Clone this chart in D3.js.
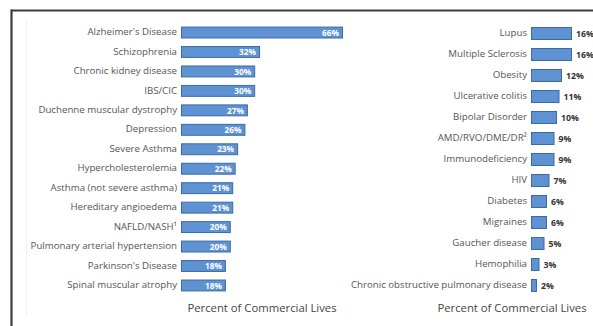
<!DOCTYPE html>
<html>
<head>
<meta charset="utf-8">
<script src="https://cdn.jsdelivr.net/npm/d3@7"></script>
<style>
  html, body { margin: 0; padding: 0; background: #fff; }
  svg { display: block; }
  text { font-family: "Open Sans", "Noto Sans", sans-serif; }
</style>
</head>
<body>
<svg id="chart" width="593" height="326"></svg>
<script>
// Share of commercial lives, by condition (two panels)
const leftCategories = [
  "Alzheimer's Disease", "Schizophrenia", "Chronic kidney disease", "IBS/CIC",
  "Duchenne muscular dystrophy", "Depression", "Severe Asthma", "Hypercholesterolemia",
  "Asthma (not severe asthma)", "Hereditary angioedema", "NAFLD/NASH\u00b9",
  "Pulmonary arterial hypertension", "Parkinson's Disease", "Spinal muscular atrophy"
];
const leftValues = [66, 32, 30, 30, 27, 26, 23, 22, 21, 21, 20, 20, 18, 18];

const rightCategories = [
  "Lupus", "Multiple Sclerosis", "Obesity", "Ulcerative colitis", "Bipolar Disorder",
  "AMD/RVO/DME/DR\u00b2", "Immunodeficiency", "HIV", "Diabetes", "Migraines",
  "Gaucher disease", "Hemophilia", "Chronic obstructive pulmonary disease"
];
const rightValues = [16, 16, 12, 11, 10, 9, 9, 7, 6, 6, 5, 3, 2];

const axisTitle = "Percent of Commercial Lives";

const svg = d3.select("#chart");
const barFill = "#5f92d2";
const barStroke = "#3a6aa6";
const labelColor = "#555";

// Frame
svg.append("line").attr("x1", 11).attr("x2", 593).attr("y1", 10.5).attr("y2", 10.5)
  .attr("stroke", "#3c3c3c").attr("stroke-width", 2.2);
svg.append("line").attr("x1", 11.5).attr("x2", 11.5).attr("y1", 9.5).attr("y2", 326)
  .attr("stroke", "#3c3c3c").attr("stroke-width", 2.2);
svg.append("line").attr("x1", 26.5).attr("x2", 26.5).attr("y1", 20).attr("y2", 316)
  .attr("stroke", "#f0f0f0").attr("stroke-width", 1);

function panel(cats, vals, opts) {
  const g = svg.append("g");
  const x = d3.scaleLinear().domain([0, opts.max]).range([opts.x0, opts.x1]);
  const y = d3.scaleBand().domain(cats).range([opts.y0, opts.y1])
    .paddingInner(opts.pad).paddingOuter(opts.pad / 2);

  // category axis (labels only)
  const axis = d3.axisLeft(y).tickSize(0).tickPadding(4);
  const ag = g.append("g").attr("transform", `translate(${opts.x0},0)`).call(axis);
  ag.select(".domain").remove();
  ag.selectAll("text").attr("fill", labelColor).style("font-size", "9.7px")
    .style("font-family", "\"Open Sans\", sans-serif");

  const rows = g.selectAll("g.row").data(cats.map((c, i) => ({ c, v: vals[i] })))
    .join("g").attr("class", "row");

  rows.append("rect")
    .attr("x", opts.x0 + 0.5)
    .attr("y", d => y(d.c) + 0.5)
    .attr("width", d => x(d.v) - opts.x0)
    .attr("height", y.bandwidth())
    .attr("fill", barFill)
    .attr("stroke", barStroke)
    .attr("stroke-width", 1);

  if (opts.inside) {
    rows.append("text")
      .attr("x", d => x(d.v) - 3)
      .attr("y", d => y(d.c) + y.bandwidth() / 2 + 1)
      .attr("dy", "0.32em")
      .attr("text-anchor", "end")
      .attr("fill", "#fff")
      .style("font-size", "8.3px")
      .style("font-weight", "700")
      .text(d => d.v + "%");
  } else {
    rows.append("text")
      .attr("x", d => x(d.v) + 5)
      .attr("y", d => y(d.c) + y.bandwidth() / 2 + 1)
      .attr("dy", "0.32em")
      .attr("text-anchor", "start")
      .attr("fill", "#333")
      .style("font-size", "8.7px")
      .style("font-weight", "700")
      .text(d => d.v + "%");
  }

  g.append("text")
    .attr("x", opts.titleX)
    .attr("y", 308)
    .attr("dy", "0.32em")
    .attr("text-anchor", "middle")
    .attr("fill", "#444")
    .style("font-size", "11.3px")
    .text(axisTitle);
}

panel(leftCategories, leftValues, {
  max: 66, x0: 181, x1: 342, y0: 22.3, y1: 294.7, pad: 0.44, inside: true, titleX: 262
});
panel(rightCategories, rightValues, {
  max: 16, x0: 531, x1: 571, y0: 22.5, y1: 295.5, pad: 0.43, inside: false, titleX: 512
});
</script>
</body>
</html>
